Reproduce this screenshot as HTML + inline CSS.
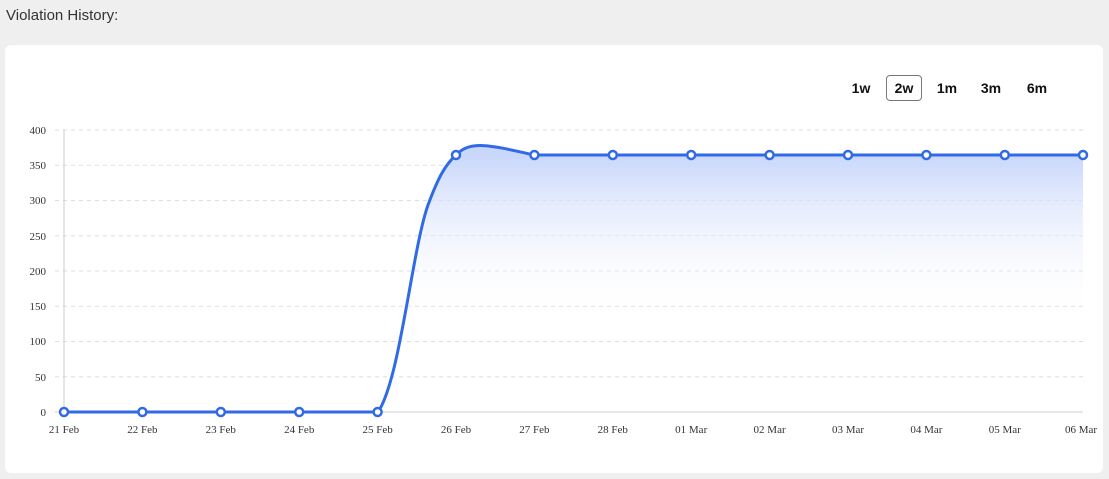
<!DOCTYPE html>
<html><head><style>
body{margin:0;width:1109px;height:479px;background:#efefef;font-family:"Liberation Sans",sans-serif;overflow:hidden;position:relative}
.t{position:absolute;left:6px;top:7px;font-size:15px;color:#333}
.card{position:absolute;left:5px;top:45px;width:1098px;height:428px;background:#fff;border-radius:6px}
.b{position:absolute;top:76px;height:24px;line-height:24px;font-size:14px;font-weight:bold;color:#111;text-align:center}
</style></head><body>
<div class="t">Violation History:</div>
<div class="card"></div>
<div class="b" style="left:848px;width:26px">1w</div>
<div class="b" style="left:886px;width:34px;border:1px solid #777;border-radius:4px;top:75px">2w</div>
<div class="b" style="left:934px;width:26px">1m</div>
<div class="b" style="left:978px;width:26px">3m</div>
<div class="b" style="left:1023px;width:28px">6m</div>
<svg width="1109" height="479" style="position:absolute;left:0;top:0" font-family="Liberation Serif" font-size="11" fill="#333">
<defs><linearGradient id="g" x1="0" y1="155" x2="0" y2="320" gradientUnits="userSpaceOnUse"><stop offset="0" stop-color="#c9d7fb"/><stop offset="1" stop-color="#fff" stop-opacity="0"/></linearGradient></defs>
<g stroke="#ddd" stroke-dasharray="4,4">
<line x1="55" x2="1083" y1="130" y2="130"/><line x1="55" x2="1083" y1="165.25" y2="165.25"/><line x1="55" x2="1083" y1="200.5" y2="200.5"/><line x1="55" x2="1083" y1="235.75" y2="235.75"/><line x1="55" x2="1083" y1="271" y2="271"/><line x1="55" x2="1083" y1="306.25" y2="306.25"/><line x1="55" x2="1083" y1="341.5" y2="341.5"/><line x1="55" x2="1083" y1="376.75" y2="376.75"/>
</g>
<line x1="64" x2="64" y1="130" y2="412" stroke="#ccc"/>
<line x1="55" x2="1083" y1="412" y2="412" stroke="#ccc"/>
<g text-anchor="end"><text x="46" y="134">400</text><text x="46" y="169">350</text><text x="46" y="204">300</text><text x="46" y="240">250</text><text x="46" y="275">200</text><text x="46" y="310">150</text><text x="46" y="345">100</text><text x="46" y="381">50</text><text x="46" y="416">0</text></g>
<path d="M378,412 C400,380 412,250 428,205 C438,178 445,165 456,155 C470,140 490,145 534,155 L1083,155 L1083,412 L378,412Z" fill="url(#g)"/>
<path d="M64,412 L378,412 C400,380 412,250 428,205 C438,178 445,165 456,155 C470,140 490,145 534,155 L1083,155" fill="none" stroke="#316ae6" stroke-width="3"/>
<g fill="#fff" stroke="#316ae6" stroke-width="2.5">
<circle cx="64" cy="412" r="4"/><circle cx="142.4" cy="412" r="4"/><circle cx="220.8" cy="412" r="4"/><circle cx="299.2" cy="412" r="4"/><circle cx="377.6" cy="412" r="4"/>
<circle cx="456" cy="155" r="4"/><circle cx="534.4" cy="155" r="4"/><circle cx="612.8" cy="155" r="4"/><circle cx="691.2" cy="155" r="4"/><circle cx="769.6" cy="155" r="4"/><circle cx="848" cy="155" r="4"/><circle cx="926.4" cy="155" r="4"/><circle cx="1004.8" cy="155" r="4"/><circle cx="1083" cy="155" r="4"/>
</g>
<g text-anchor="middle">
<text x="64" y="433">21 Feb</text><text x="142.4" y="433">22 Feb</text><text x="220.8" y="433">23 Feb</text><text x="299.2" y="433">24 Feb</text><text x="377.6" y="433">25 Feb</text><text x="456" y="433">26 Feb</text><text x="534.4" y="433">27 Feb</text><text x="612.8" y="433">28 Feb</text><text x="691.2" y="433">01 Mar</text><text x="769.6" y="433">02 Mar</text><text x="848" y="433">03 Mar</text><text x="926.4" y="433">04 Mar</text><text x="1004.8" y="433">05 Mar</text><text x="1081" y="433">06 Mar</text>
</g>
</svg>
</body></html>
